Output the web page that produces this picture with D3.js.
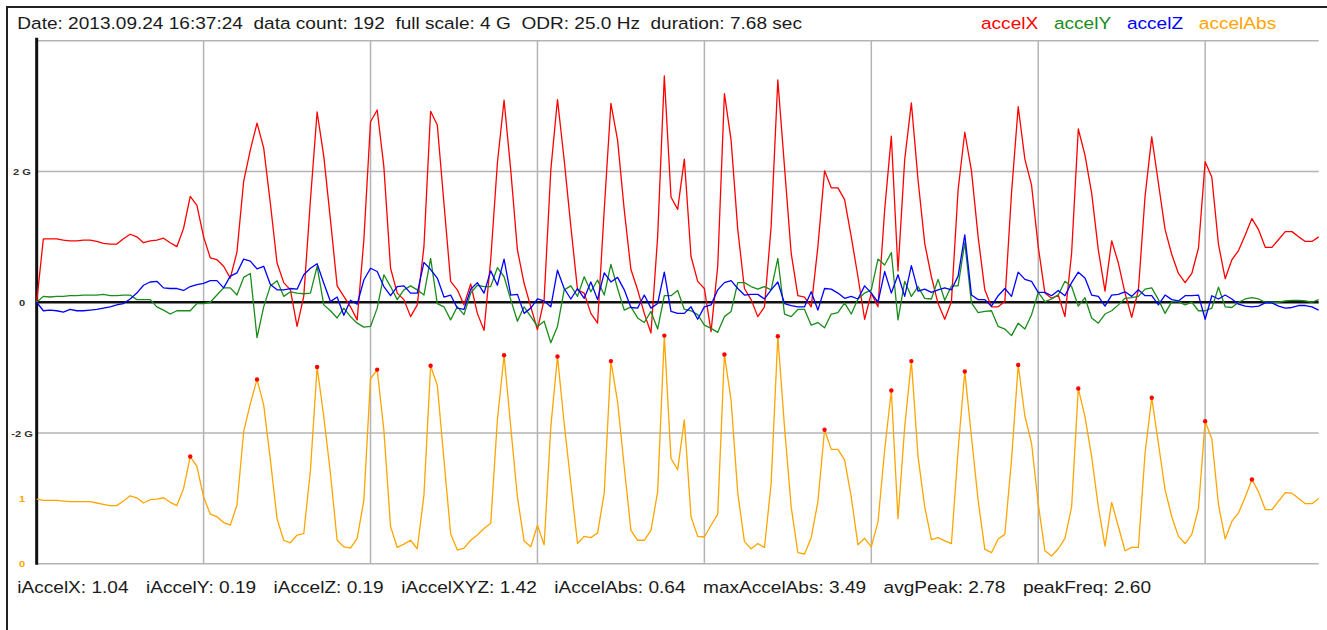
<!DOCTYPE html>
<html>
<head>
<meta charset="utf-8">
<script src="https://cdn.jsdelivr.net/npm/d3@7"></script>
<style>
body { margin: 0; background: #fff; }
text { font-family: "Liberation Sans", Arial, Helvetica, sans-serif; white-space: pre; }
</style>
</head>
<body>
<div id="chart"></div>
<script>
// samples 0..192 (25 Hz), values in G
const accelX = [0,
 0.97,0.97,0.97,0.95,0.94,0.94,0.95,0.95,0.93,0.90,0.89,0.89,
 0.97,1.04,1.00,0.91,0.94,0.95,0.98,0.91,0.85,1.13,1.62,1.48,
 1.00,0.68,0.65,0.55,0.37,0.77,1.85,2.33,2.74,2.36,1.51,0.60,
 0.30,0.19,-0.37,0.09,1.56,2.91,2.23,1.26,0.25,0.09,-0.07,-0.27,
 0.95,2.76,2.94,2.07,0.52,0.14,0.04,-0.22,-0.04,0.85,2.92,2.71,
 1.51,0.32,0.19,-0.04,0.28,-0.17,-0.43,0.65,2.13,3.09,2.02,0.80,
 0.29,-0.07,-0.42,0.04,2.02,3.10,2.18,1.16,0.19,0.14,-0.17,-0.32,
 1.41,3.04,2.48,1.41,0.50,0.19,-0.17,-0.47,1.00,3.46,1.61,1.42,
 2.19,0.70,0.32,0.21,-0.45,0.55,3.19,2.48,1.11,0.21,0.04,-0.22,
 -0.07,1.16,3.40,2.07,0.75,0.10,0.08,-0.07,0.85,2.01,1.75,1.75,
 1.57,1.00,0.39,-0.26,0.14,-0.07,1.41,2.54,0.48,2.18,3.05,1.87,
 0.90,0.39,-0.02,-0.26,0.01,1.72,2.60,2.01,1.00,0.19,-0.07,-0.07,
 0.01,1.67,2.99,2.19,1.79,0.85,0.14,0.06,0.11,-0.22,0.75,2.65,
 2.25,1.67,0.80,0.17,0.94,0.60,0.14,-0.23,0.19,1.62,2.53,1.82,
 1.11,0.73,0.44,0.30,0.44,0.83,2.15,1.91,0.88,0.36,0.65,0.79,
 1.03,1.28,1.11,0.84,0.84,0.96,1.08,1.08,1.00,0.93,0.93,1.00];

const accelY = [0,
 0.09,0.08,0.09,0.09,0.10,0.10,0.11,0.11,0.11,0.12,0.10,0.10,
 0.11,0.11,0.04,0.04,0.04,-0.07,-0.12,-0.18,-0.13,-0.13,-0.13,-0.02,
 -0.02,0.00,0.11,0.22,0.22,0.11,0.38,0.44,-0.54,-0.07,0.25,0.33,
 0.09,0.16,0.14,0.13,0.14,0.55,-0.04,-0.13,-0.24,-0.09,-0.22,-0.32,
 -0.38,-0.37,-0.09,0.42,0.24,0.04,0.19,0.25,0.19,0.11,0.67,-0.02,
 -0.07,-0.27,-0.07,-0.19,0.14,0.26,0.24,0.24,0.53,0.39,0.04,-0.29,
 -0.07,-0.22,-0.37,-0.29,-0.62,-0.37,0.19,0.25,0.09,0.39,0.16,0.34,
 0.11,0.58,0.21,-0.12,-0.07,-0.24,-0.31,-0.14,-0.41,0.10,0.10,0.18,
 -0.11,-0.13,-0.19,-0.35,-0.40,-0.46,-0.22,-0.14,0.30,0.30,0.24,0.20,
 0.24,0.19,0.67,-0.18,-0.22,-0.11,-0.11,-0.35,-0.31,-0.39,-0.18,-0.16,
 -0.01,-0.18,0.05,0.14,0.19,0.66,0.57,0.76,-0.27,0.32,0.09,0.24,
 0.06,0.05,0.35,0.03,0.25,0.25,0.91,-0.01,-0.16,-0.14,-0.13,-0.37,
 -0.41,-0.51,-0.32,-0.41,-0.19,0.15,0.01,0.05,0.11,0.32,0.24,-0.06,
 0.07,-0.24,-0.32,-0.18,-0.13,-0.04,0.06,0.07,0.09,0.20,0.22,0.04,
 -0.17,0.01,0.01,-0.04,0.00,-0.13,-0.13,-0.09,0.23,-0.07,-0.08,0.00,
 0.05,0.07,0.05,0.00,0.00,0.00,0.02,0.03,0.03,0.02,0.00,0.04];

const accelZ = [0,
 -0.13,-0.12,-0.13,-0.15,-0.11,-0.13,-0.13,-0.12,-0.11,-0.09,-0.07,-0.04,
 -0.02,0.05,0.14,0.26,0.31,0.32,0.22,0.21,0.21,0.18,0.24,0.27,
 0.29,0.33,0.33,0.22,0.40,0.45,0.66,0.63,0.51,0.55,0.27,0.19,
 0.19,0.21,0.20,0.42,0.52,0.59,0.29,0.01,0.08,-0.20,0.03,-0.03,
 0.34,0.52,0.47,0.24,0.10,0.24,0.25,0.14,0.14,0.61,0.50,0.37,
 0.08,0.11,-0.09,-0.11,0.20,0.30,0.14,0.48,0.26,0.66,0.11,0.12,
 -0.17,-0.09,0.05,0.02,-0.07,0.49,0.21,0.05,0.21,0.06,0.31,0.04,
 0.45,0.31,0.38,0.19,-0.08,-0.09,0.11,-0.09,-0.02,0.46,-0.14,-0.17,
 -0.17,-0.07,-0.26,-0.07,-0.04,0.19,0.30,0.33,0.21,0.11,0.12,0.12,
 0.05,0.19,0.31,-0.02,-0.05,-0.07,-0.07,0.16,-0.12,0.21,0.20,0.14,
 0.06,0.09,0.05,0.25,0.14,0.00,0.47,0.14,0.42,0.09,0.56,0.17,
 0.20,0.15,0.19,0.22,0.19,0.40,1.03,0.11,0.04,0.04,-0.06,0.10,
 0.21,0.09,0.46,0.35,0.32,0.15,0.15,0.10,0.18,0.10,0.30,0.46,
 0.37,0.11,0.09,-0.06,0.11,0.12,0.16,0.09,0.19,0.10,0.10,-0.04,
 0.11,0.04,0.02,0.10,0.10,0.11,-0.26,0.10,0.05,0.11,0.05,-0.03,
 -0.06,-0.07,-0.06,-0.01,-0.01,-0.06,-0.09,-0.08,-0.05,-0.05,-0.07,-0.12];

const accelAbs = [0.99,
 0.97,0.97,0.97,0.96,0.95,0.95,0.95,0.95,0.93,0.91,0.89,0.89,
 0.96,1.04,1.01,0.93,0.98,0.99,1.01,0.94,0.89,1.15,1.64,1.49,
 1.02,0.76,0.72,0.63,0.59,0.90,2.02,2.45,2.82,2.43,1.59,0.69,
 0.36,0.32,0.44,0.46,1.43,3.01,2.25,1.38,0.36,0.26,0.24,0.39,
 0.97,2.83,2.97,2.04,0.57,0.25,0.30,0.36,0.23,1.05,3.03,2.73,
 1.59,0.46,0.21,0.24,0.36,0.44,0.54,0.62,2.20,3.19,2.09,1.02,
 0.35,0.26,0.59,0.29,2.09,3.17,2.15,1.23,0.31,0.42,0.40,0.47,
 1.08,3.10,2.48,1.48,0.51,0.36,0.36,0.51,1.10,3.49,1.61,1.44,
 2.20,0.72,0.42,0.41,0.59,0.76,3.20,2.50,1.08,0.34,0.23,0.31,
 0.25,1.23,3.48,2.09,0.87,0.17,0.15,0.40,0.95,2.05,1.75,1.75,
 1.59,1.02,0.29,0.39,0.26,0.64,1.74,2.65,0.69,2.09,3.10,1.64,
 0.87,0.37,0.40,0.35,0.31,1.74,2.94,1.94,0.97,0.22,0.17,0.38,
 0.45,1.59,3.04,2.26,1.84,0.92,0.20,0.12,0.23,0.39,0.87,2.68,
 2.25,1.64,0.87,0.27,0.94,0.57,0.20,0.25,0.25,1.69,2.54,1.84,
 1.13,0.72,0.42,0.31,0.45,0.85,2.18,1.91,0.90,0.38,0.65,0.78,
 1.02,1.29,1.10,0.83,0.83,0.96,1.09,1.08,1.00,0.92,0.92,1.00];

// detected peaks of accelAbs (sample index)
const peakIdx = [23,33,42,51,59,70,78,86,94,103,111,118,128,131,139,147,156,167,175,182];

const headerText = "Date: 2013.09.24 16:37:24  data count: 192  full scale: 4 G  ODR: 25.0 Hz  duration: 7.68 sec";
const seriesNames = ["accelX", "accelY", "accelZ", "accelAbs"];
const seriesColors = ["#ff0000", "#1a8c1a", "#0000ff", "#ffa500"];
const gTicks = [2, 0, -2];
const absTicks = [1, 0];
const statNames = ["iAccelX", "iAccelY", "iAccelZ", "iAccelXYZ", "iAccelAbs", "maxAccelAbs", "avgPeak", "peakFreq"];
const statValues = ["1.04", "0.19", "0.19", "1.42", "0.64", "3.49", "2.78", "2.60"];

const W = 1327, H = 630;
const stretch = 1.17;   // text in the picture is drawn a bit wide

const svg = d3.select("#chart").append("svg")
  .attr("width", W).attr("height", H);

const x = d3.scaleLinear().domain([0, 192]).range([36.67, 1318.67]);
const y = d3.scaleLinear().domain([-4, 4]).range([563.8, 40.7]);
const yAbs = d3.scaleLinear().domain([0, 8]).range([563.8, 40.7]);

function wideText(g, tx, ty, str, size) {
  return g.append("g")
    .attr("transform", `translate(${tx},${ty}) scale(${stretch},1)`)
    .append("text")
    .attr("font-size", size)
    .text(str);
}

// outer frame (top + left only)
svg.append("path")
  .attr("d", `M7,${H} V7 H${W}`)
  .attr("fill", "none")
  .attr("stroke", "#222")
  .attr("stroke-width", 2);

// grid
const grid = svg.append("g");
grid.selectAll("line.h")
  .data([-4, -2, 2, 4])
  .enter().append("line")
  .attr("x1", x(0)).attr("x2", x(192))
  .attr("y1", d => y(d)).attr("y2", d => y(d))
  .attr("stroke", "#b4b4b4").attr("stroke-width", 1.5);
grid.selectAll("line.v")
  .data(d3.range(25, 192, 25))
  .enter().append("line")
  .attr("x1", d => x(d)).attr("x2", d => x(d))
  .attr("y1", y(4)).attr("y2", y(-4))
  .attr("stroke", "#b4b4b4").attr("stroke-width", 1.5);

// zero line + left axis
svg.append("line")
  .attr("x1", x(0)).attr("x2", x(192))
  .attr("y1", y(0)).attr("y2", y(0))
  .attr("stroke", "#111").attr("stroke-width", 2.5);
svg.append("line")
  .attr("x1", x(0)).attr("x2", x(0))
  .attr("y1", y(4) - 3).attr("y2", y(-4) + 1)
  .attr("stroke", "#111").attr("stroke-width", 3);

// tick labels
gTicks.forEach(t => {
  wideText(svg, 22, y(t) + 3.5, t === 0 ? "0" : t + " G", 9.5)
    .attr("text-anchor", "middle").attr("font-weight", "bold").attr("fill", "#333");
});
absTicks.forEach(t => {
  wideText(svg, 22, yAbs(t) + 3.5, String(t), 9.5)
    .attr("text-anchor", "middle").attr("font-weight", "bold").attr("fill", seriesColors[3]);
});

// series
const lineG = d3.line().x((d, i) => x(i)).y(d => y(d));
const lineAbs = d3.line().x((d, i) => x(i)).y(d => yAbs(d));
[accelX, accelY, accelZ].forEach((s, k) => {
  svg.append("path")
    .datum(s)
    .attr("fill", "none")
    .attr("stroke", seriesColors[k])
    .attr("stroke-width", 1.3)
    .attr("stroke-linejoin", "round")
    .attr("d", lineG);
});
svg.append("path")
  .datum(accelAbs)
  .attr("fill", "none")
  .attr("stroke", seriesColors[3])
  .attr("stroke-width", 1.3)
  .attr("stroke-linejoin", "round")
  .attr("d", lineAbs);

svg.selectAll("circle.peak")
  .data(peakIdx)
  .enter().append("circle")
  .attr("cx", d => x(d))
  .attr("cy", d => yAbs(accelAbs[d]))
  .attr("r", 2.2)
  .attr("fill", "#ff0000");

// header
wideText(svg, 17.3, 29, headerText, 16.3).attr("fill", "#1a1a1a");

// legend
let lx = 981;
seriesNames.forEach((n, k) => {
  const t = wideText(svg, lx, 29, n, 16.3).attr("fill", seriesColors[k]);
  lx += t.node().getComputedTextLength() * stretch + 15.8;
});

// footer stats, laid out one after another
let fx = 17.3;
statNames.forEach((n, k) => {
  const t = wideText(svg, fx, 593, n + ": " + statValues[k], 16.3).attr("fill", "#1a1a1a");
  fx += t.node().getComputedTextLength() * stretch + 17.5;
});
</script>
</body>
</html>
